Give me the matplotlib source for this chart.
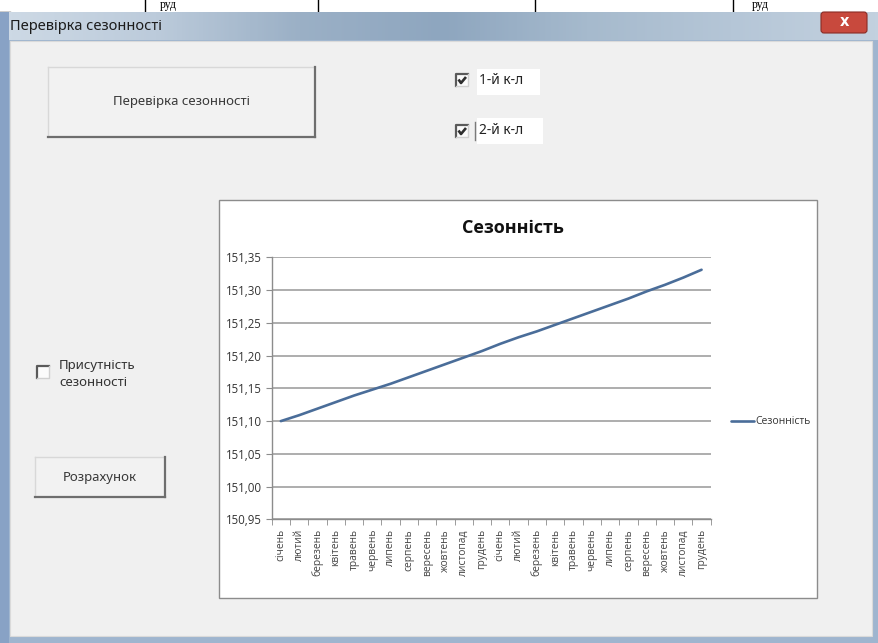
import numpy as np
import matplotlib
matplotlib.use('Agg')
import matplotlib.pyplot as plt
import matplotlib.patches as mpatches
from matplotlib.colors import LinearSegmentedColormap
from matplotlib.ticker import FuncFormatter

# data
MONTHS = ['січень', 'лютий', 'березень', 'квітень', 'травень', 'червень',
          'липень', 'серпень', 'вересень', 'жовтень', 'листопад', 'грудень']
X_LABELS = MONTHS + MONTHS
SEASONALITY = [151.100, 151.109, 151.119, 151.129, 151.139, 151.148,
               151.157, 151.167, 151.177, 151.187, 151.197, 151.207,
               151.218, 151.228, 151.237, 151.247, 151.257, 151.267,
               151.277, 151.287, 151.298, 151.308, 151.319, 151.331]
Y_TICKS = [150.95, 151.00, 151.05, 151.10, 151.15, 151.20, 151.25, 151.30, 151.35]

SERIES_NAME = 'Сезонність'
CHART_TITLE = 'Сезонність'
WINDOW_TITLE = 'Перевірка сезонності'

# sizes in screen pixels
W, H = 879, 643
UI_FONT = ['Noto Sans', 'DejaVu Sans']
CHART_FONT = ['Open Sans', 'DejaVu Sans']
LINE_COLOR = '#4a6d99'
GRID_COLOR = '#a0a0a0'


def fig_box(x0, y0, x1, y1):
    # pixel box (top-left origin) -> figure fraction rect
    return [x0 / W, 1 - y1 / H, (x1 - x0) / W, (y1 - y0) / H]


def rect(ax, x0, y0, x1, y1, fc, ec='none', lw=0, z=1):
    ax.add_patch(mpatches.Rectangle((x0, y0), x1 - x0, y1 - y0,
                                    facecolor=fc, edgecolor=ec, lw=lw, zorder=z))


def button(ax, x0, y0, x1, y1, label):
    rect(ax, x0, y0, x1, y1, '#f2f2f2', z=2)
    ax.plot([x0, x1], [y0, y0], color='#d8d8d8', lw=1, zorder=3)
    ax.plot([x0, x0], [y0, y1], color='#d8d8d8', lw=1, zorder=3)
    ax.plot([x0, x1], [y1, y1], color='#6e6e6e', lw=1.6, zorder=3)
    ax.plot([x1, x1], [y0, y1], color='#6e6e6e', lw=1.6, zorder=3)
    ax.text((x0 + x1) / 2, (y0 + y1) / 2, label, ha='center', va='center',
            fontsize=9.5, color='#3a3a3a', family=UI_FONT, zorder=4)


def checkbox(ax, x, y, checked):
    s = 12
    rect(ax, x, y, x + s, y + s, '#fbfbfb', z=2)
    ax.plot([x, x, x + s], [y + s, y, y], color='#5a5a5a', lw=1.6, zorder=3)
    ax.plot([x, x + s, x + s], [y + s, y + s, y], color='#d0d0d0', lw=1, zorder=3)
    if checked:
        ax.plot([x + 2.5, x + 5, x + 10], [y + 5.5, y + 9, y + 3],
                color='#2e2e2e', lw=1.9, zorder=4, solid_capstyle='butt')


fig = plt.figure(figsize=(W / 100, H / 100), dpi=100)

# ---- window chrome, drawn in pixel coordinates
bg = fig.add_axes([0, 0, 1, 1])
bg.set_xlim(0, W)
bg.set_ylim(H, 0)
bg.axis('off')

rect(bg, 0, 0, W, H, '#ffffff', z=0)
# frame
rect(bg, 0, 12, W, H, '#9fb5cf', z=0.5)
# title bar gradient
stops = ['#cdd9e5', '#bccbdb', '#9bb0c6', '#8ea6bf', '#a6bacd', '#b5c6d7', '#c3d1df']
cmap = LinearSegmentedColormap.from_list('tb', stops)
bar = np.linspace(0, 1, 300).reshape(1, -1)
bg.imshow(bar, cmap=cmap, extent=[8, W, 40, 12], aspect='auto', zorder=0.8)
bg.text(10, 27, WINDOW_TITLE, ha='left', va='center', fontsize=10.5,
        color='#1c1c1c', family=UI_FONT, zorder=3)
# close button
close = mpatches.FancyBboxPatch((821, 12), 46, 21,
                                boxstyle='round,pad=0,rounding_size=3',
                                facecolor='#c8493d', edgecolor='#8a2c24', lw=0.8, zorder=3)
bg.add_patch(close)
bg.text(844, 22, 'x', ha='center', va='center', fontsize=10.5, fontweight='bold',
        color='white', family=['DejaVu Sans'], zorder=4)
# left strip and client area
rect(bg, 0, 12, 9, H, '#88a2c5', z=0.9)
rect(bg, 10, 41, 872, 636, '#f0f0f0', ec='#dadada', lw=0.8, z=1)

# top table fragment above the window
for xv in [145, 318, 535, 733]:
    bg.plot([xv, xv], [0, 12], color='black', lw=1, zorder=0.6)
bg.plot([0, 10], [11.5, 11.5], color='black', lw=1, zorder=0.6)
for xv in [160, 752]:
    bg.text(xv, 8, 'руд', ha='left', va='baseline', fontsize=8.5,
            family=['Liberation Serif', 'DejaVu Serif'], color='black', zorder=0.6)

# controls
button(bg, 48, 67, 315, 137, 'Перевірка сезонності')
button(bg, 35, 457, 165, 497, 'Розрахунок')

rect(bg, 477, 69, 540, 95, '#ffffff', z=1.5)
rect(bg, 477, 118, 543, 144, '#ffffff', z=1.5)
checkbox(bg, 456, 74, True)
checkbox(bg, 456, 125, True)
bg.plot([475, 475], [122, 140], color='#7a7a7a', lw=1, zorder=3)
bg.text(479, 81, '1-й к-л', ha='left', va='center', fontsize=10,
        fontweight='semibold', color='#222222', family=UI_FONT, zorder=3)
bg.text(479, 131, '2-й к-л', ha='left', va='center', fontsize=10,
        fontweight='semibold', color='#222222', family=UI_FONT, zorder=3)

checkbox(bg, 37, 366, False)
bg.text(59, 366, 'Присутність', ha='left', va='center', fontsize=9.5,
        color='#333333', family=UI_FONT, zorder=3)
bg.text(59, 382, 'сезонності', ha='left', va='center', fontsize=9.5,
        color='#333333', family=UI_FONT, zorder=3)

# chart box
rect(bg, 219, 200, 817, 598, '#ffffff', ec='#8c8c8c', lw=1, z=1.5)
bg.text(513, 228, CHART_TITLE, ha='center', va='center', fontsize=13,
        fontweight='bold', color='#111111', family=CHART_FONT, zorder=3)

# ---- the actual line chart
ax = fig.add_axes(fig_box(271.7, 257.3, 710.7, 519.4))
ax.set_facecolor('none')
x = np.arange(len(SEASONALITY))
ax.plot(x, SEASONALITY, color=LINE_COLOR, lw=1.9, label=SERIES_NAME,
        solid_capstyle='round', zorder=3)

ax.set_xlim(-0.5, len(X_LABELS) - 0.5)
ax.set_ylim(Y_TICKS[0], Y_TICKS[-1])
ax.set_yticks(Y_TICKS)
ax.yaxis.set_major_formatter(FuncFormatter(lambda v, p: f'{v:.2f}'.replace('.', ',')))
ax.set_xticks(x)
ax.set_xticklabels(X_LABELS, rotation=90)
ax.set_xticks(np.arange(len(X_LABELS) + 1) - 0.5, minor=True)

ax.yaxis.grid(True, color=GRID_COLOR, lw=1.2)
ax.set_axisbelow(True)
for side in ['top', 'right']:
    ax.spines[side].set_visible(False)
for side in ['left', 'bottom']:
    ax.spines[side].set_color('#8c8c8c')
    ax.spines[side].set_linewidth(1)

ax.tick_params(axis='y', length=4, color='#8c8c8c', pad=3,
               labelsize=8.3, labelcolor='#333333')
ax.tick_params(axis='x', which='major', length=0, pad=7,
               labelsize=7.4, labelcolor='#444444')
ax.tick_params(axis='x', which='minor', length=4, color='#8c8c8c')
for lab in ax.get_yticklabels() + ax.get_xticklabels():
    lab.set_family(CHART_FONT)

leg = ax.legend(loc='center left', bbox_to_anchor=(726 / W, 1 - 422 / H),
                bbox_transform=fig.transFigure, frameon=False,
                handlelength=2.2, handletextpad=0.1, borderpad=0,
                prop={'family': CHART_FONT, 'size': 7.5})
for t in leg.get_texts():
    t.set_color('#333333')

fig.savefig('out.png', dpi=100)
